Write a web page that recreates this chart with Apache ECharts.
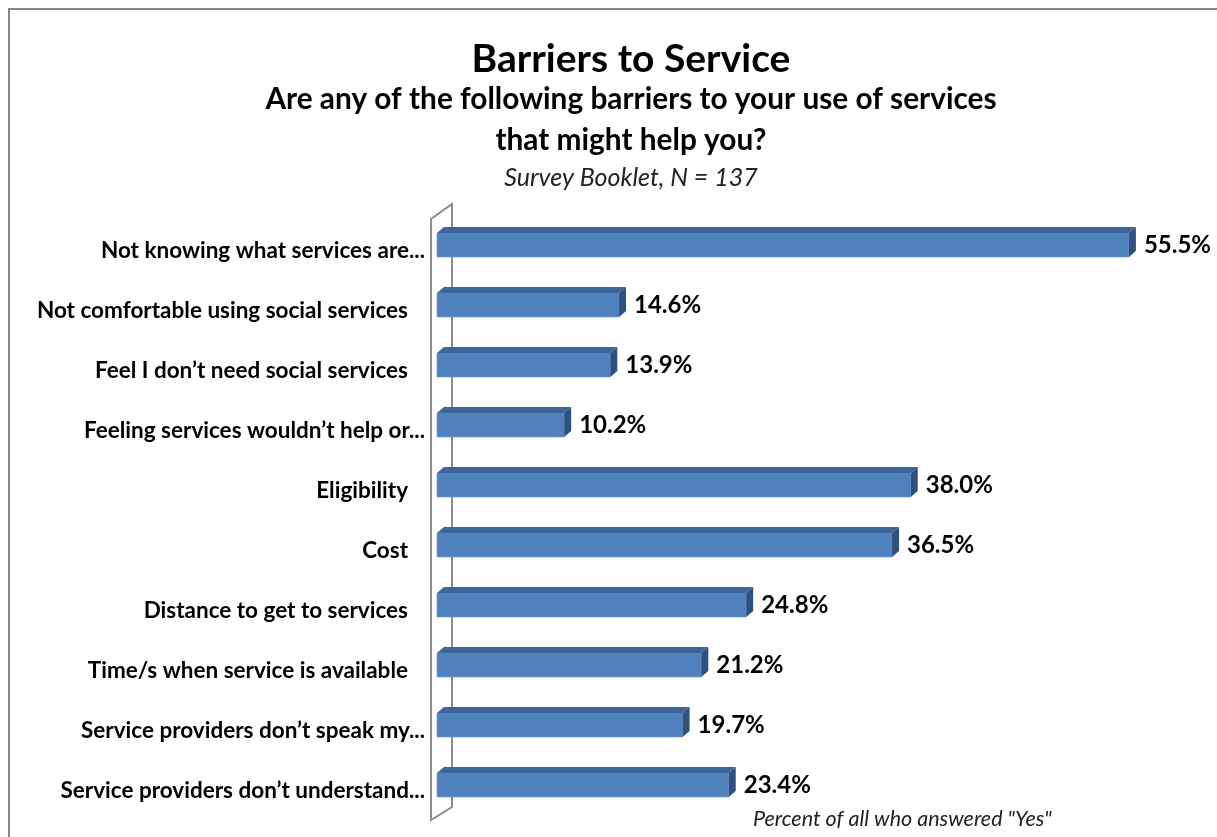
<!DOCTYPE html>
<html>
<head>
<meta charset="utf-8">
<script src="https://cdn.jsdelivr.net/npm/echarts@6/dist/echarts.min.js"></script>
<style>
  html, body { margin: 0; padding: 0; background: #fff; }
  #chart { width: 1217px; height: 837px; }
</style>
</head>
<body>
<div id="chart"></div>
<script>
// Survey answers: share of respondents naming each barrier (percent)
const categories = [
  'Not knowing what services are...',
  'Not comfortable using social services',
  'Feel I don\u2019t need social services',
  'Feeling services wouldn\u2019t help or...',
  'Eligibility',
  'Cost',
  'Distance to get to services',
  'Time/s when service is available',
  'Service providers don\u2019t speak my...',
  'Service providers don\u2019t understand...'
];
const percentYes = [55.5, 14.6, 13.9, 10.2, 38.0, 36.5, 24.8, 21.2, 19.7, 23.4];

const titleText = 'Barriers to Service';
const subtitleLines = ['Are any of the following barriers to your use of services', 'that might help you?'];
const sourceText = 'Survey Booklet, N = 137';
const footText = 'Percent of all who answered "Yes"';

const FONT = 'Lato, "Open Sans", sans-serif';
const GRID = { left: 437, top: 221, width: 748, height: 600 };

const chart = echarts.init(document.getElementById('chart'), null, { renderer: 'canvas' });

// 3D-looking horizontal bar: front face, top face and right side face
function renderBar(params, api) {
  const v = api.value(0);
  const cat = api.value(1);
  const p0 = api.coord([0, cat]);
  const p1 = api.coord([v, cat]);
  const h = 24, dx = 7, dy = 6;
  const yTop = p0[1] - 6 - h / 2;
  const yBot = yTop + h;
  const x0 = p0[0], x1 = p1[0];
  return {
    type: 'group',
    children: [
      {
        type: 'rect',
        shape: { x: x0, y: yTop, width: x1 - x0, height: h },
        style: { fill: '#4F81BD', stroke: '#6b95c8', lineWidth: 0.6 }
      },
      {
        type: 'polygon',
        shape: { points: [[x0, yTop], [x1, yTop], [x1 + dx, yTop - dy], [x0 + dx, yTop - dy]] },
        style: { fill: '#3D6597' }
      },
      {
        type: 'polygon',
        shape: { points: [[x1, yTop], [x1 + dx, yTop - dy], [x1 + dx, yBot - dy], [x1, yBot]] },
        style: { fill: '#2F5180' }
      },
      {
        type: 'text',
        style: {
          x: x1 + dx + 8,
          y: (yTop + yBot) / 2,
          text: v.toFixed(1) + '%',
          fill: '#000',
          font: 'bold 24px ' + FONT,
          textAlign: 'left',
          textVerticalAlign: 'middle'
        }
      }
    ]
  };
}

const wallLeft = GRID.left - 6, wallBack = GRID.left + 15;

chart.setOption({
  animation: false,
  backgroundColor: '#fff',
  grid: { left: GRID.left, top: GRID.top, width: GRID.width, height: GRID.height },
  xAxis: { type: 'value', min: 0, max: 60, show: false },
  yAxis: {
    type: 'category',
    data: categories,
    inverse: true,
    axisLine: { show: false },
    axisTick: { show: false },
    splitLine: { show: false },
    axisLabel: {
      margin: 12,
      formatter: (s) => s.endsWith('...') ? '{t|' + s + '}' : '{f|' + s + '}',
      rich: {
        t: { fontFamily: FONT, fontWeight: 'bold', fontSize: 22.5, color: '#000' },
        f: { fontFamily: FONT, fontWeight: 'bold', fontSize: 22.5, color: '#000', padding: [0, 17, 0, 0] }
      }
    }
  },
  graphic: [
    {
      type: 'rect', z: -10, silent: true,
      shape: { x: 9, y: 9, width: 1400, height: 1000 },
      style: { fill: 'none', stroke: '#868686', lineWidth: 2 }
    },
    {
      type: 'polygon', z: 0, silent: true,
      shape: { points: [
        [wallLeft, GRID.top - 2], [wallLeft, GRID.top + GRID.height - 1],
        [wallBack, GRID.top + GRID.height - 14], [wallBack, GRID.top - 17]
      ] },
      style: { fill: 'none', stroke: '#8c8c8c', lineWidth: 2 }
    },
    {
      type: 'text', silent: true,
      style: { x: 631, y: 59, text: titleText, font: 'bold 39px ' + FONT, fill: '#000', textAlign: 'center', textVerticalAlign: 'middle' }
    },
    {
      type: 'text', silent: true,
      style: { x: 631, y: 99, text: subtitleLines[0], font: 'bold 29.8px ' + FONT, fill: '#000', textAlign: 'center', textVerticalAlign: 'middle' }
    },
    {
      type: 'text', silent: true,
      style: { x: 631, y: 140, text: subtitleLines[1], font: 'bold 29.8px ' + FONT, fill: '#000', textAlign: 'center', textVerticalAlign: 'middle' }
    },
    {
      type: 'text', silent: true,
      style: { x: 631, y: 178, text: sourceText, font: 'italic 25px ' + FONT, fill: '#222', textAlign: 'center', textVerticalAlign: 'middle' }
    },
    {
      type: 'text', silent: true,
      style: { x: 753, y: 819, text: footText, font: 'italic 21.5px ' + FONT, fill: '#222', textAlign: 'left', textVerticalAlign: 'middle' }
    }
  ],
  series: [{
    type: 'custom',
    renderItem: renderBar,
    encode: { x: 0, y: 1 },
    data: percentYes.map((v, i) => [v, i]),
    z: 5
  }]
});
</script>
</body>
</html>
